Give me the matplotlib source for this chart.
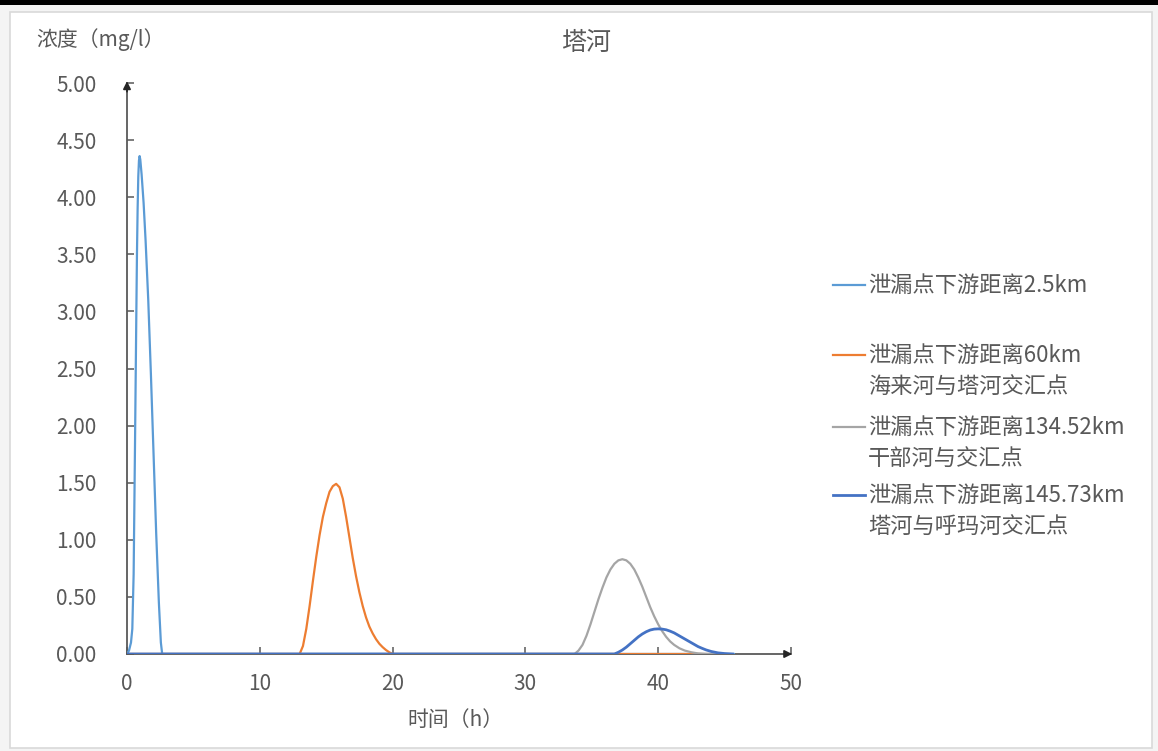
import matplotlib
matplotlib.use("Agg")
import matplotlib.pyplot as plt
from matplotlib.lines import Line2D
from matplotlib.patches import Rectangle

plt.rcParams["font.family"] = ["Noto Sans CJK SC", "DejaVu Sans"]

# ---- data -------------------------------------------------------------
title = "塔河"
y_label = "浓度（mg/l）"
x_label = "时间（h）"

labels = [
    "泄漏点下游距离2.5km",
    "泄漏点下游距离60km\n海来河与塔河交汇点",
    "泄漏点下游距离134.52km\n干部河与交汇点",
    "泄漏点下游距离145.73km\n塔河与呼玛河交汇点",
]
colors = ["#5B9BD5", "#ED7D31", "#A5A5A5", "#4472C4"]

t_25 = [0, 0.15, 0.3, 0.4, 0.5, 0.6, 0.7, 0.75, 0.8, 0.85, 0.9, 0.95, 1.0,
        1.1, 1.25, 1.4, 1.6, 1.8, 2.0, 2.2, 2.4, 2.55, 2.65, 45.7]
c_25 = [0, 0.03, 0.1, 0.22, 0.7, 1.8, 2.95, 3.5, 3.9, 4.18, 4.32, 4.36, 4.33,
        4.2, 3.95, 3.62, 3.1, 2.45, 1.75, 1.05, 0.45, 0.1, 0, 0]

t_60 = [0, 13.0, 13.25, 13.5, 13.75, 14.0, 14.25, 14.5, 14.75, 15.0, 15.25,
        15.5, 15.75, 16.0, 16.25, 16.5, 16.75, 17.0, 17.25, 17.5, 17.75,
        18.0, 18.25, 18.5, 18.75, 19.0, 19.25, 19.5, 19.75, 20.0, 44.0]
c_60 = [0, 0, 0.07, 0.22, 0.42, 0.64, 0.85, 1.04, 1.2, 1.32, 1.42,
        1.47, 1.49, 1.46, 1.36, 1.2, 1.02, 0.84, 0.68, 0.54, 0.42,
        0.32, 0.24, 0.18, 0.13, 0.09, 0.06, 0.035, 0.015, 0, 0]

t_134 = [0, 33.7, 34.0, 34.3, 34.6, 34.9, 35.2, 35.5, 35.8, 36.1, 36.4, 36.7,
         37.0, 37.3, 37.6, 37.9, 38.2, 38.5, 38.8, 39.1, 39.4, 39.7, 40.0,
         40.3, 40.6, 40.9, 41.2, 41.6, 42.0, 42.5, 43.0, 43.6, 44.5]
c_134 = [0, 0, 0.03, 0.08, 0.16, 0.26, 0.37, 0.48, 0.58, 0.67, 0.74, 0.79,
         0.82, 0.83, 0.82, 0.79, 0.74, 0.67, 0.59, 0.5, 0.41, 0.33, 0.26,
         0.2, 0.15, 0.11, 0.08, 0.05, 0.03, 0.015, 0.005, 0, 0]

t_145 = [0, 36.7, 37.0, 37.3, 37.6, 37.9, 38.2, 38.5, 38.8, 39.1, 39.4, 39.7,
         40.0, 40.3, 40.6, 40.9, 41.2, 41.5, 41.8, 42.1, 42.4, 42.7, 43.0,
         43.3, 43.6, 44.0, 44.5, 45.0, 45.6]
c_145 = [0, 0, 0.015, 0.035, 0.06, 0.09, 0.12, 0.15, 0.175, 0.195, 0.21, 0.218,
         0.22, 0.218, 0.212, 0.2, 0.185, 0.165, 0.145, 0.125, 0.105, 0.085, 0.065,
         0.05, 0.036, 0.022, 0.01, 0.004, 0]

series = [(t_25, c_25), (t_60, c_60), (t_134, c_134), (t_145, c_145)]
line_widths = [1.6, 1.6, 1.6, 2.0]

x_ticks = [0, 10, 20, 30, 40, 50]
y_ticks = [0, 0.5, 1.0, 1.5, 2.0, 2.5, 3.0, 3.5, 4.0, 4.5, 5.0]

# ---- figure -------------------------------------------------------------
W, H = 1158, 751
fig = plt.figure(figsize=(W / 100, H / 100), dpi=100)
fig.patch.set_facecolor("#f4f4f4")


def fx(px):
    return px / W


def fy(py):
    return 1 - py / H


# chart area and top bar
fig.add_artist(Rectangle((fx(10), fy(748)), fx(1152 - 10), (748 - 12) / H,
                         transform=fig.transFigure, facecolor="white",
                         edgecolor="#d9d9d9", lw=1.2, zorder=-10))
fig.add_artist(Rectangle((0, fy(5)), 1, 5 / H, transform=fig.transFigure,
                         facecolor="black", edgecolor="none", zorder=-5))

ax = fig.add_axes([fx(127), fy(654), fx(791 - 127), (654 - 83) / H])
ax.set_facecolor("none")

for (t, c), col, lw in zip(series, colors, line_widths):
    ax.plot(t, c, color=col, lw=lw, solid_joinstyle="round", zorder=3)

ax.set_xlim(0, 50)
ax.set_ylim(0, 5)
ax.set_xticks(x_ticks)
ax.set_yticks(y_ticks)
ax.set_yticklabels([f"{v:.2f}" for v in y_ticks])

for side in ("top", "right"):
    ax.spines[side].set_visible(False)
for side in ("left", "bottom"):
    ax.spines[side].set_color("#595959")
    ax.spines[side].set_linewidth(1.3)
    ax.spines[side].set_zorder(1)

text_col = "#595959"
ax.tick_params(axis="both", direction="in", length=5, width=1.1,
               color="#595959", labelcolor=text_col, labelsize=15)
ax.tick_params(axis="x", pad=14)
ax.tick_params(axis="y", pad=22)

# axis arrowheads
arrow_kw = dict(arrowstyle="-|>", color="#262626", lw=1.3, mutation_scale=11)
ax.annotate("", xy=(0, 5.04), xytext=(0, 4.9), arrowprops=arrow_kw,
            annotation_clip=False)
ax.annotate("", xy=(50.3, 0), xytext=(49.5, 0), arrowprops=arrow_kw,
            annotation_clip=False)

# titles
fig.text(fx(586), fy(43), title, fontsize=18, color=text_col,
         ha="center", va="center")
fig.text(fx(36), fy(40), y_label, fontsize=15, color=text_col,
         ha="left", va="center")
fig.text(fx(455), fy(720), x_label, fontsize=15, color=text_col,
         ha="center", va="center")

# legend
row_y = [285, 355, 427, 495]
line_step = 31
for lab, col, lw, y0 in zip(labels, colors, line_widths, row_y):
    fig.add_artist(Line2D([fx(833), fx(865)], [fy(y0), fy(y0)],
                          color=col, lw=lw, transform=fig.transFigure))
    for i, part in enumerate(lab.split("\n")):
        fig.text(fx(868), fy(y0 + i * line_step), part, fontsize=16,
                 color=text_col, ha="left", va="center")

fig.savefig("out.png", dpi=100, facecolor=fig.get_facecolor())
